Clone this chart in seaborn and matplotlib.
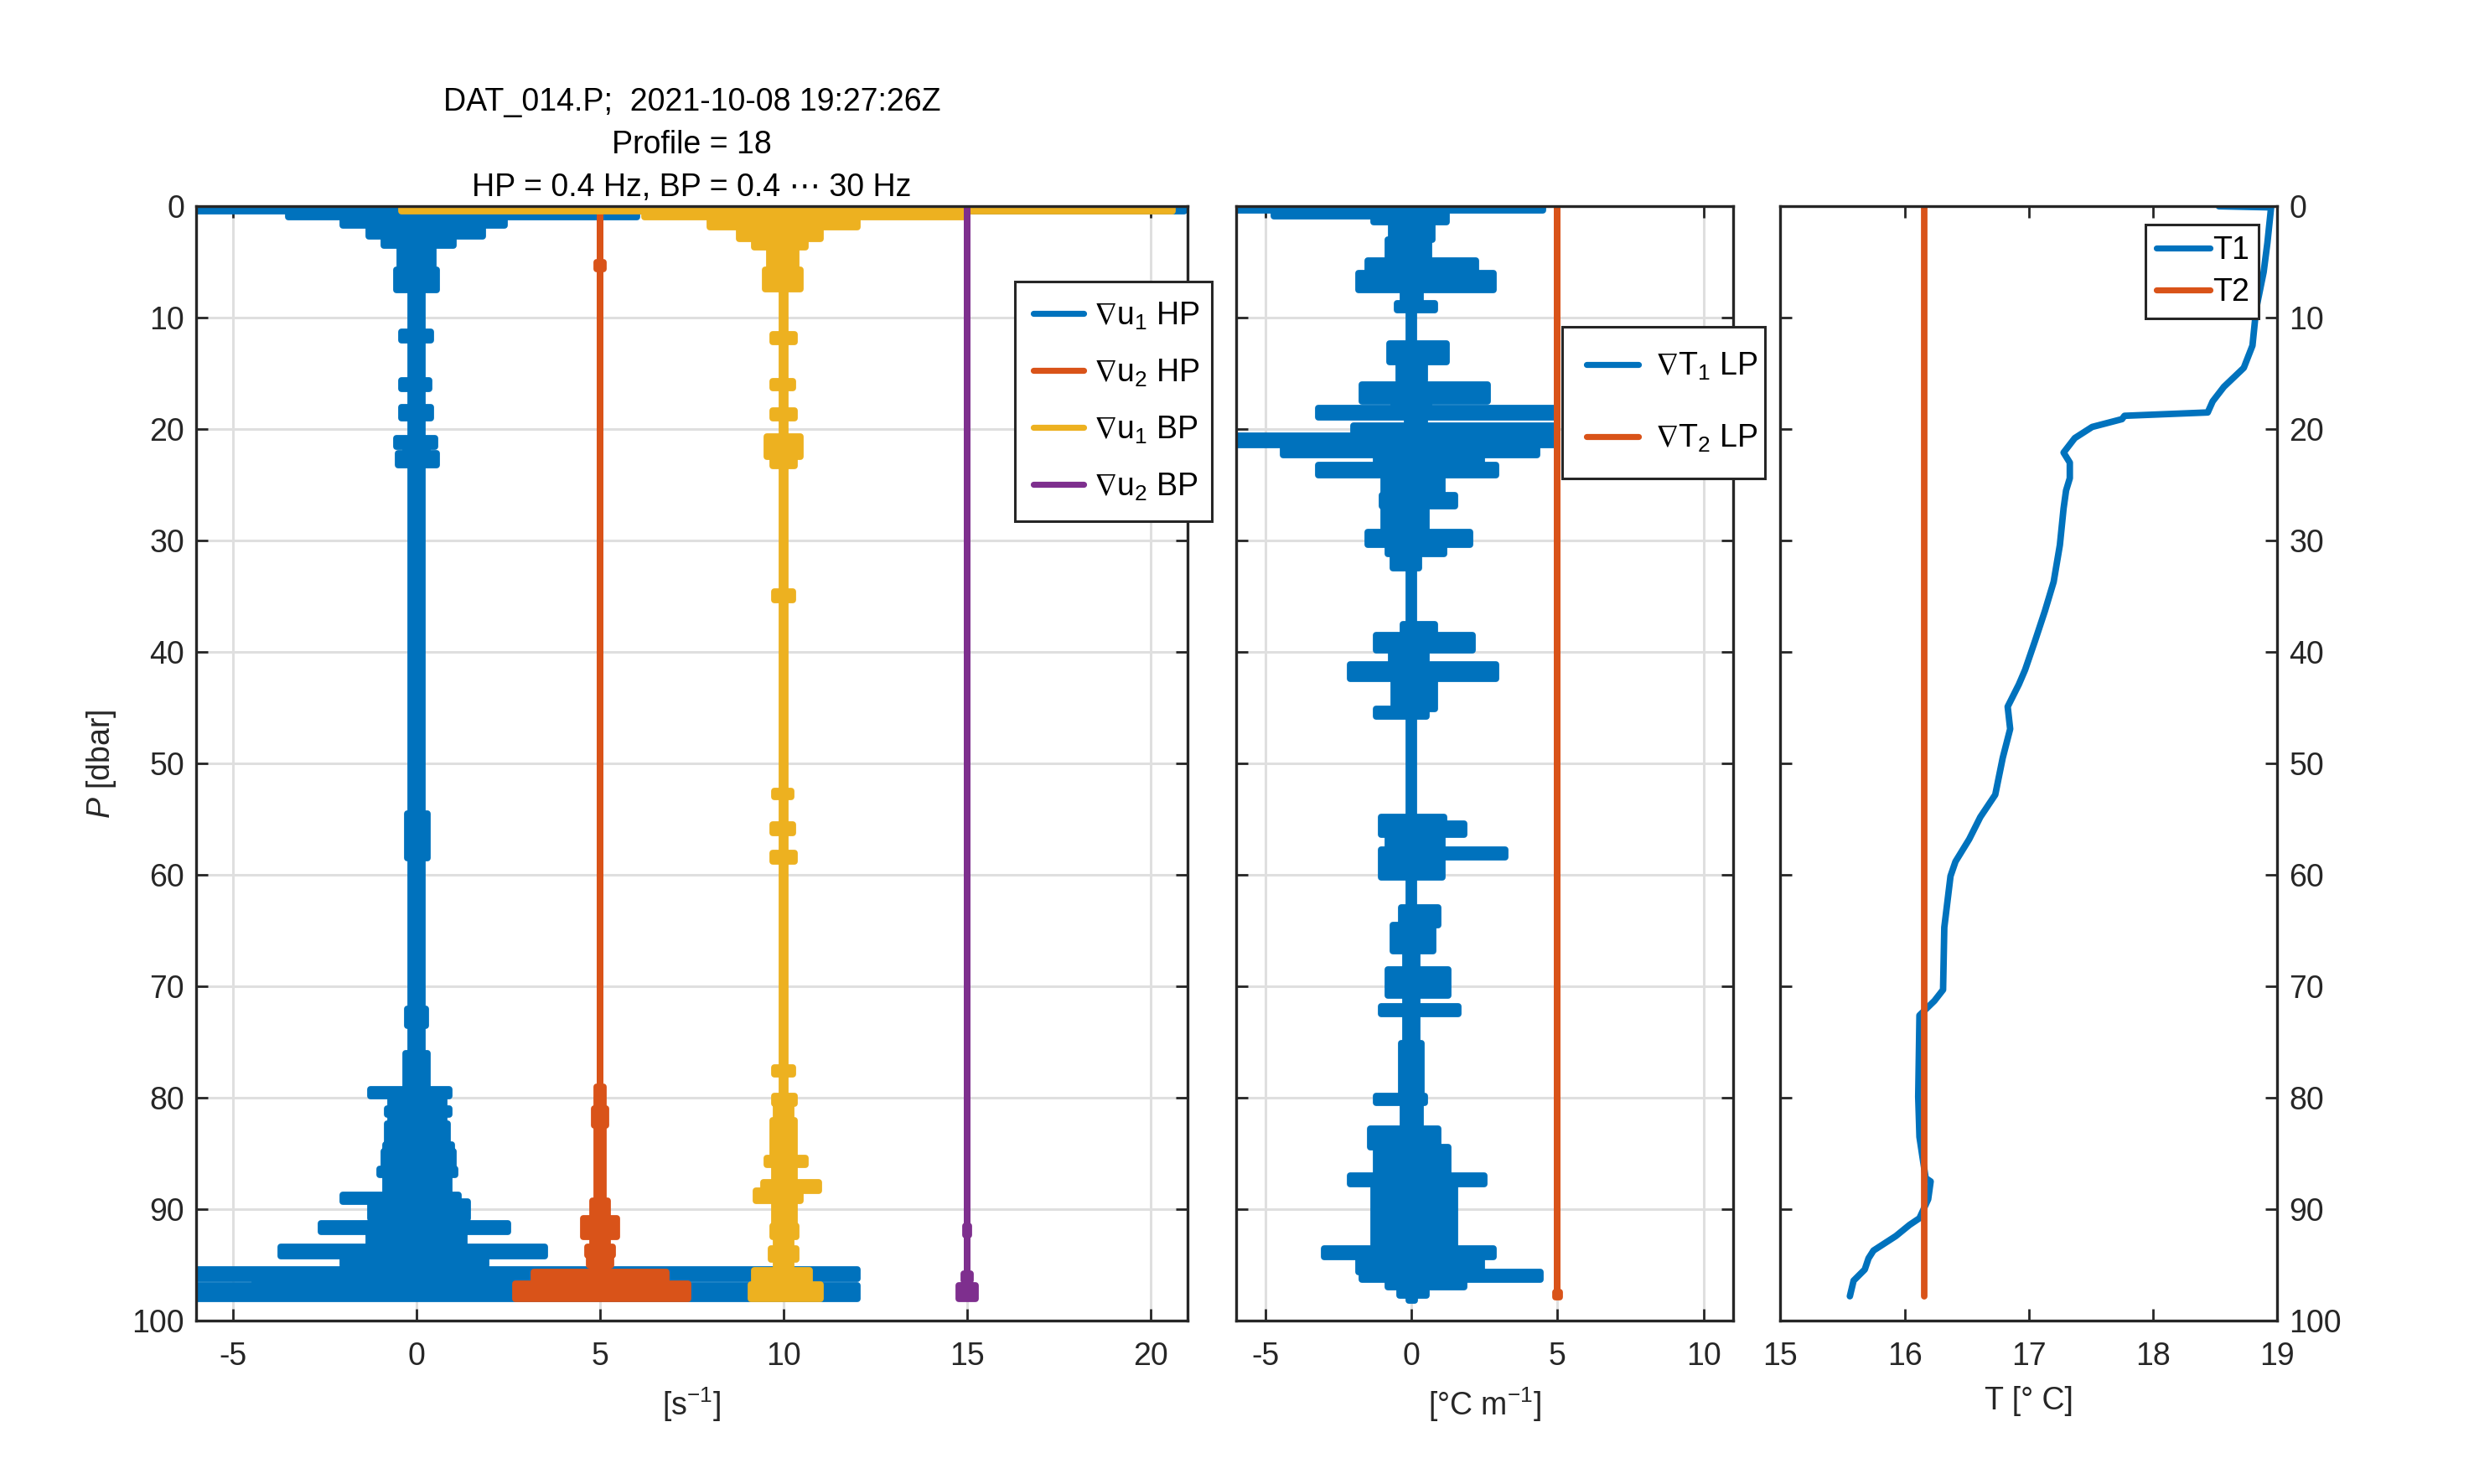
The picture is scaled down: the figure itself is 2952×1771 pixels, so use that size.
import matplotlib
matplotlib.use("Agg")
import matplotlib.pyplot as plt
from matplotlib.lines import Line2D
import seaborn as sns

# MATLAB default colour order
BLUE = "#0072BD"
ORANGE = "#D95319"
YELLOW = "#EDB120"
PURPLE = "#7E2F8E"
INK = "#262626"
GRID = "#DFDFDF"

# ---------------- data ----------------
# noisy traces are stored as envelopes: depth where a block starts, left and right extent
u1hp_p = [0.0, 0.45, 1.0, 1.7, 2.7, 3.5, 5.7, 7.5, 11.3, 12.0, 15.6, 16.4, 18.0, 19.0,
          20.8, 21.6, 22.2, 23.2, 54.5, 58.5, 72.0, 73.5, 76.0, 79.2, 79.8, 81.0, 81.5,
          82.3, 84.2, 84.8, 86.4, 86.9, 88.7, 89.3, 90.8, 91.3, 92.0, 93.4, 94.2, 95.0,
          95.4, 96.25, 96.85, 98.0]
u1hp_lo = [-6.0, -3.5, -2.0, -1.3, -0.9, -0.45, -0.55, -0.17, -0.4, -0.17, -0.4, -0.17,
           -0.4, -0.17, -0.55, -0.3, -0.5, -0.17, -0.25, -0.17, -0.25, -0.17, -0.3, -1.25,
           -0.7, -0.8, -0.7, -0.8, -0.85, -0.9, -1.0, -0.85, -2.0, -1.25, -0.9, -2.6, -1.3,
           -3.7, -2.0, -1.5, -6.0, -4.4, -6.0, -6.0]
u1hp_hi = [20.9, 6.0, 2.4, 1.8, 1.0, 0.45, 0.55, 0.17, 0.4, 0.17, 0.35, 0.17, 0.4, 0.17,
           0.5, 0.3, 0.55, 0.17, 0.3, 0.17, 0.25, 0.17, 0.3, 0.9, 0.75, 0.9, 0.75, 0.85,
           0.95, 1.0, 1.05, 0.9, 1.15, 1.4, 0.9, 2.5, 1.3, 3.5, 1.9, 1.5, 12.0, 3.8, 12.0,
           12.0]

u2hp_p = [0.0, 5.0, 5.6, 79.0, 81.0, 82.5, 89.2, 90.8, 92.5, 93.4, 94.1, 94.5, 95.0,
          95.6, 96.4, 96.7, 98.0]
u2hp_lo = [5.0, 4.9, 5.0, 4.92, 4.85, 4.92, 4.8, 4.55, 4.8, 4.65, 4.8, 4.7, 4.8, 3.2,
           4.3, 2.7, 2.7]
u2hp_hi = [5.0, 5.1, 5.0, 5.08, 5.15, 5.08, 5.2, 5.45, 5.2, 5.35, 5.2, 5.3, 5.2, 6.8,
           5.8, 7.4, 7.4]

u1bp_p = [0.0, 0.45, 1.0, 1.9, 2.9, 3.7, 5.7, 7.4, 11.5, 12.2, 15.7, 16.3, 18.3, 19.0,
          20.7, 22.5, 23.3, 34.6, 35.3, 52.5, 53.0, 55.5, 56.2, 58.0, 58.8, 77.3, 77.9,
          79.8, 80.5, 82.0, 85.4, 86.0, 87.6, 88.3, 89.2, 91.5, 92.5, 93.5, 94.5, 95.5,
          96.5, 96.75, 98.0]
u1bp_lo = [-0.4, 6.2, 8.0, 8.8, 9.2, 9.6, 9.5, 9.95, 9.7, 9.95, 9.7, 9.95, 9.7, 9.95,
           9.55, 9.7, 9.95, 9.75, 9.95, 9.75, 9.95, 9.7, 9.95, 9.7, 9.95, 9.75, 9.95,
           9.75, 9.8, 9.7, 9.55, 9.75, 9.45, 9.25, 9.75, 9.7, 9.8, 9.65, 9.8, 9.2, 9.8,
           9.1, 9.1]
u1bp_hi = [20.6, 15.0, 12.0, 11.0, 10.6, 10.35, 10.45, 10.05, 10.3, 10.05, 10.25, 10.05,
           10.3, 10.05, 10.45, 10.3, 10.05, 10.25, 10.05, 10.2, 10.05, 10.25, 10.05, 10.3,
           10.05, 10.25, 10.05, 10.3, 10.2, 10.3, 10.6, 10.3, 10.95, 10.45, 10.3, 10.35,
           10.2, 10.35, 10.2, 10.7, 10.3, 11.0, 11.0]

u2bp_p = [0.1, 91.5, 92.3, 95.8, 96.4, 96.8, 98.0]
u2bp_lo = [15.0, 14.95, 15.0, 14.9, 15.0, 14.78, 14.78]
u2bp_hi = [15.0, 15.05, 15.0, 15.1, 15.0, 15.22, 15.22]

gT1_p = [0.0, 0.4, 0.9, 1.4, 3.0, 4.9, 6.0, 7.5, 8.7, 9.3, 12.3, 14.0, 15.6, 16.0, 17.5,
         18.1, 18.9, 19.7, 20.6, 21.4, 22.3, 23.2, 24.1, 25.9, 26.9, 29.2, 30.4, 31.2,
         32.5, 37.5, 38.5, 39.8, 41.1, 42.4, 45.1, 45.8, 54.8, 55.4, 56.4, 57.7, 58.4,
         60.2, 62.9, 64.5, 66.8, 68.5, 70.8, 71.8, 72.5, 75.1, 79.8, 80.4, 82.8, 84.4,
         87.0, 87.7, 93.5, 94.3, 95.6, 96.3, 97.0, 97.7, 98.2]
gT1_lo = [-6.0, -4.7, -1.3, -0.7, -0.8, -1.5, -1.8, -0.3, -0.5, -0.08, -0.75, -0.45,
          -0.08, -1.7, -0.6, -3.2, -0.15, -2.0, -6.0, -4.4, -1.2, -3.2, -0.95, -1.0, -0.95,
          -1.5, -0.8, -0.65, -0.08, -0.3, -1.2, -0.7, -2.1, -0.6, -1.2, -0.08, -1.05,
          -1.05, -0.8, -1.05, -1.05, -0.08, -0.35, -0.65, -0.2, -0.8, -0.2, -1.05, -0.2,
          -0.35, -1.2, -0.3, -1.4, -1.2, -2.1, -1.3, -3.0, -1.8, -1.7, -0.8, -0.4, -0.1,
          -0.1]
gT1_hi = [4.5, 1.2, 1.2, 0.7, 0.6, 2.2, 2.8, 0.3, 0.8, 0.08, 1.2, 0.45, 0.08, 2.6, 0.6,
          4.9, 0.45, 4.9, 4.9, 4.3, 2.4, 2.9, 1.05, 1.5, 0.5, 2.0, 1.1, 0.25, 0.08, 0.8,
          2.1, 0.5, 2.9, 0.8, 0.5, 0.08, 1.1, 1.8, 1.05, 3.2, 1.05, 0.08, 0.9, 0.75, 0.2,
          1.25, 0.2, 1.6, 0.2, 0.35, 0.45, 0.3, 0.9, 1.25, 2.5, 1.5, 2.8, 2.4, 4.4, 1.8,
          0.5, 0.1, 0.1]

gT2_p = [0.0, 97.4, 97.9]
gT2_lo = [5.0, 4.93, 4.93]
gT2_hi = [5.0, 5.07, 5.07]

T1_p = [0.0, 0.1, 3.3, 5.9, 9.2, 12.5, 14.5, 16.2, 17.5, 18.5, 18.8, 19.1, 19.8, 20.8,
        22.1, 23.0, 24.4, 25.5, 27.1, 30.4, 33.7, 36.3, 39.0, 41.6, 42.9, 44.9, 46.9,
        49.5, 52.8, 54.8, 56.8, 58.8, 60.1, 64.7, 70.3, 71.3, 72.6, 79.9, 83.5, 87.2,
        87.5, 89.1, 90.8, 91.4, 92.4, 93.7, 94.4, 95.4, 96.4, 97.8]
T1_t = [18.53, 18.95, 18.92, 18.89, 18.83, 18.80, 18.73, 18.57, 18.48, 18.44, 17.77,
        17.75, 17.51, 17.37, 17.28, 17.33, 17.33, 17.30, 17.28, 17.25, 17.20, 17.13,
        17.05, 16.97, 16.92, 16.83, 16.85, 16.79, 16.73, 16.61, 16.52, 16.41, 16.37,
        16.32, 16.31, 16.24, 16.12, 16.11, 16.12, 16.17, 16.21, 16.19, 16.12, 16.04,
        15.93, 15.75, 15.71, 15.68, 15.59, 15.56]
T2_p = [0.0, 97.8]
T2_t = [16.155, 16.155]

title_lines = ["DAT_014.P;  2021-10-08 19:27:26Z", "Profile = 18",
               "HP = 0.4 Hz, BP = 0.4 \u22ef 30 Hz"]
shear_labels = [r"$\nabla$u$_1$ HP", r"$\nabla$u$_2$ HP", r"$\nabla$u$_1$ BP",
                r"$\nabla$u$_2$ BP"]
grad_labels = [r"$\nabla$T$_1$ LP", r"$\nabla$T$_2$ LP"]
temp_labels = ["T1", "T2"]

# ---------------- style ----------------
sns.set_theme(style="ticks")
plt.rcParams["font.family"] = ["Liberation Sans", "DejaVu Sans"]
plt.rcParams.update({
    "mathtext.fontset": "custom",
    "mathtext.rm": "Liberation Sans",
    "mathtext.it": "Liberation Sans:italic",
    "mathtext.bf": "Liberation Sans:bold",
    "mathtext.sf": "Liberation Sans",
    "mathtext.fallback": "stixsans",
    "axes.unicode_minus": False,
    "axes.facecolor": "white",
    "figure.facecolor": "white",
})

FS = 13.5
LW = 2.8

fig = plt.figure(figsize=(14.76, 8.855), dpi=200)
ax1 = fig.add_axes([0.0793, 0.110, 0.4007, 0.751])
ax2 = fig.add_axes([0.4997, 0.110, 0.2007, 0.751])
ax3 = fig.add_axes([0.7196, 0.110, 0.2009, 0.751])


def trace(ax, p, lo, hi, color):
    ax.fill_betweenx(p, lo, hi, step="post", facecolor=color, edgecolor=color,
                     linewidth=LW, joinstyle="round", zorder=2)


def frame(ax, grid=True):
    ax.set_ylim(100, 0)
    ax.set_yticks(range(0, 101, 10))
    ax.tick_params(direction="in", top=True, right=True, length=5, width=1.0,
                   colors=INK, labelsize=FS, labelcolor=INK)
    ax.tick_params(axis="x", pad=9)
    ax.tick_params(axis="y", pad=5)
    for s in ax.spines.values():
        s.set_visible(True)
        s.set_color(INK)
        s.set_linewidth(1.2)
    ax.set_axisbelow(True)
    if grid:
        ax.grid(True, color=GRID, linewidth=1.1)
    else:
        ax.grid(False)


# panel 1: shear
trace(ax1, u1hp_p, u1hp_lo, u1hp_hi, BLUE)
trace(ax1, u2hp_p, u2hp_lo, u2hp_hi, ORANGE)
trace(ax1, u1bp_p, u1bp_lo, u1bp_hi, YELLOW)
trace(ax1, u2bp_p, u2bp_lo, u2bp_hi, PURPLE)
frame(ax1)
ax1.set_xlim(-6, 21)
ax1.set_xticks([-5, 0, 5, 10, 15, 20])
ax1.set_xlabel("[s$^{-1}$]", fontsize=FS, color=INK, labelpad=6)
ax1.set_ylabel(r"$\mathit{P}$ [dbar]", fontsize=FS, color=INK, labelpad=6)

# panel 2: temperature gradient
trace(ax2, gT1_p, gT1_lo, gT1_hi, BLUE)
trace(ax2, gT2_p, gT2_lo, gT2_hi, ORANGE)
frame(ax2)
ax2.set_xlim(-6, 11)
ax2.set_xticks([-5, 0, 5, 10])
ax2.tick_params(labelleft=False)
ax2.set_xlabel("[\u00b0C m$^{-1}$]", fontsize=FS, color=INK, labelpad=6)
ax2.set_ylabel("")

# panel 3: temperature
sns.lineplot(x=T1_t, y=T1_p, orient="y", sort=False, estimator=None, color=BLUE,
             linewidth=LW, ax=ax3, legend=False)
sns.lineplot(x=T2_t, y=T2_p, orient="y", sort=False, estimator=None, color=ORANGE,
             linewidth=LW, ax=ax3, legend=False)
frame(ax3, grid=False)
ax3.set_xlim(15, 19)
ax3.set_xticks([15, 16, 17, 18, 19])
ax3.tick_params(labelleft=False, labelright=True)
ax3.set_xlabel("T [\u00b0 C]", fontsize=FS, color=INK, labelpad=6)
ax3.set_ylabel("")


def handles(colors):
    return [Line2D([], [], color=c, linewidth=2.6) for c in colors]


leg_kw = dict(loc="upper left", bbox_transform=fig.transFigure, mode="expand",
              borderaxespad=0, frameon=True, fancybox=False, framealpha=1,
              edgecolor=INK, fontsize=FS)
leg1 = ax1.legend(handles([BLUE, ORANGE, YELLOW, PURPLE]), shear_labels,
                  bbox_to_anchor=(0.4102, 0.650, 0.0796, 0.1603),
                  handlelength=1.6, handletextpad=0.3, labelspacing=0.82,
                  borderpad=0.6, **leg_kw)
leg2 = ax2.legend(handles([BLUE, ORANGE]), grad_labels,
                  bbox_to_anchor=(0.6314, 0.6787, 0.0820, 0.1011),
                  handlelength=1.65, handletextpad=0.55, labelspacing=1.3,
                  borderpad=0.77, **leg_kw)
leg3 = ax3.legend(handles([BLUE, ORANGE]), temp_labels,
                  bbox_to_anchor=(0.8672, 0.7866, 0.0458, 0.0621),
                  handlelength=1.7, handletextpad=0.1, labelspacing=0.38,
                  borderpad=0.35, **leg_kw)
for lg in (leg1, leg2, leg3):
    lg.get_frame().set_linewidth(1.1)
    for t in lg.get_texts():
        t.set_color("black")

# three-line title over the first panel
for y, line in zip([0.9255, 0.8967, 0.8679], title_lines):
    fig.text(0.2797, y, line, ha="center", va="baseline", fontsize=FS, color="black")

fig.savefig("out.png", dpi=200)
